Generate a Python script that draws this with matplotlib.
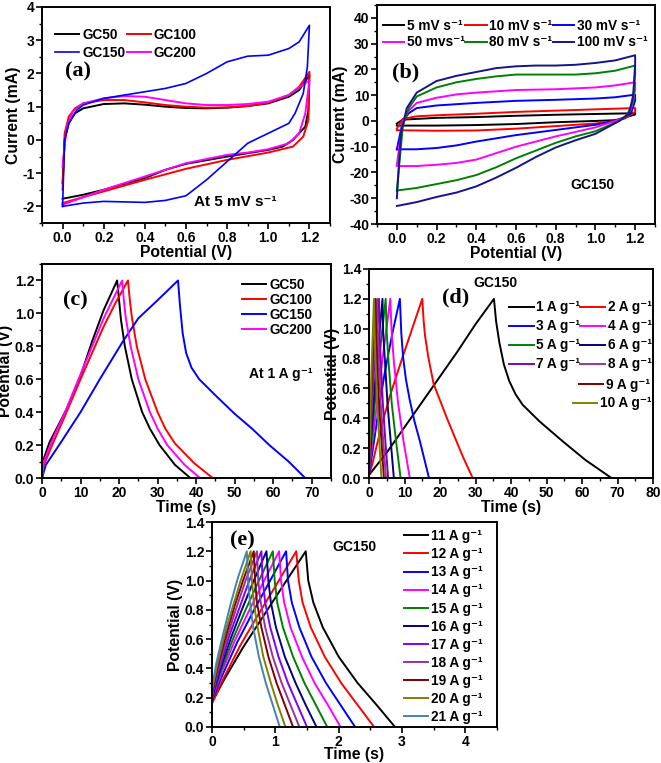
import numpy as np
import matplotlib
matplotlib.use('Agg')
import matplotlib.pyplot as plt
from matplotlib.ticker import MultipleLocator

plt.rcParams['font.family'] = ['Liberation Sans', 'DejaVu Sans']
plt.rcParams['font.weight'] = 'bold'
plt.rcParams['axes.labelweight'] = 'bold'
plt.rcParams['axes.linewidth'] = 1.4
plt.rcParams['axes.unicode_minus'] = False
plt.rcParams['font.size'] = 10

# ---------------- (a) CV at 5 mV/s, (V, mA) ----------------
a_gc50 = [(0.0, -1.3), (0.01, 0.0), (0.03, 0.5), (0.06, 0.8), (0.1, 0.95), (0.2, 1.08), (0.3, 1.1),
          (0.4, 1.06), (0.5, 1.0), (0.6, 0.96), (0.7, 0.95), (0.8, 0.97), (0.9, 1.02), (1.0, 1.1),
          (1.1, 1.3), (1.15, 1.5), (1.2, 1.95), (1.195, 0.9), (1.18, 0.4), (1.15, 0.2), (1.12, 0.0),
          (1.07, -0.2), (1.0, -0.3), (0.8, -0.5), (0.6, -0.72), (0.5, -0.9), (0.4, -1.15), (0.2, -1.5),
          (0.1, -1.65), (0.0, -1.77)]
a_gc100 = [(0.0, -1.5), (0.01, 0.2), (0.03, 0.7), (0.06, 0.95), (0.1, 1.1), (0.2, 1.2), (0.3, 1.2),
           (0.4, 1.13), (0.5, 1.05), (0.6, 1.0), (0.7, 0.97), (0.8, 0.98), (0.9, 1.02), (1.0, 1.12),
           (1.1, 1.35), (1.15, 1.6), (1.2, 2.05), (1.195, 0.6), (1.17, 0.1), (1.12, -0.2), (1.0, -0.38),
           (0.8, -0.6), (0.6, -0.87), (0.4, -1.2), (0.2, -1.55), (0.1, -1.72), (0.0, -1.9)]
a_gc150 = [(0.0, -2.0), (0.01, 0.0), (0.03, 0.5), (0.07, 0.9), (0.1, 1.05), (0.2, 1.25), (0.3, 1.35),
           (0.4, 1.45), (0.5, 1.55), (0.6, 1.7), (0.7, 2.0), (0.8, 2.35), (0.9, 2.52), (1.0, 2.55),
           (1.1, 2.75), (1.15, 2.95), (1.2, 3.45), (1.19, 2.2), (1.17, 1.4), (1.13, 0.8), (1.1, 0.5),
           (1.0, 0.2), (0.9, -0.1), (0.8, -0.65), (0.7, -1.2), (0.6, -1.68), (0.5, -1.82), (0.4, -1.88),
           (0.2, -1.85), (0.1, -1.9), (0.0, -2.0)]
a_gc200 = [(0.0, -0.8), (0.02, 0.4), (0.05, 0.85), (0.1, 1.1), (0.2, 1.25), (0.3, 1.32), (0.4, 1.3),
           (0.5, 1.2), (0.6, 1.1), (0.7, 1.05), (0.8, 1.05), (0.9, 1.08), (1.0, 1.15), (1.1, 1.35),
           (1.2, 1.8), (1.18, 0.8), (1.15, 0.2), (1.1, -0.1), (1.0, -0.28), (0.9, -0.38), (0.8, -0.45),
           (0.6, -0.7), (0.4, -1.1), (0.2, -1.5), (0.0, -1.95)]

# ---------------- (b) CV of GC150 at several scan rates ----------------
b_5 = [(0.0, -1.0), (0.03, 0.5), (0.2, 1.2), (0.4, 1.5), (0.6, 2.0), (0.8, 2.4), (1.0, 2.7), (1.2, 3.0),
       (1.2, 2.5), (1.1, 0.3), (1.0, 0.0), (0.8, -0.5), (0.6, -1.2), (0.4, -1.6), (0.2, -1.8), (0.0, -1.8)]
b_10 = [(0.0, -3.0), (0.03, 0.8), (0.1, 1.8), (0.2, 2.2), (0.4, 2.8), (0.6, 3.5), (0.8, 4.0), (1.0, 4.5),
        (1.2, 5.0), (1.2, 3.5), (1.15, 1.0), (1.1, 0.0), (1.0, -1.0), (0.8, -2.0), (0.6, -3.0), (0.4, -3.7),
        (0.2, -3.8), (0.0, -3.6)]
b_30 = [(0.0, -11.0), (0.03, 0.0), (0.06, 3.0), (0.1, 5.0), (0.2, 6.0), (0.4, 7.0), (0.6, 7.8), (0.8, 8.2),
        (1.0, 8.7), (1.1, 9.2), (1.2, 10.2), (1.2, 8.0), (1.18, 3.0), (1.14, 1.0), (1.1, 0.0), (1.0, -1.5),
        (0.8, -3.5), (0.6, -5.5), (0.4, -8.0), (0.3, -9.5), (0.2, -10.5), (0.1, -11.0), (0.0, -11.0)]
b_50 = [(0.0, -17.0), (0.03, 0.0), (0.06, 4.0), (0.1, 7.0), (0.2, 9.0), (0.3, 10.3), (0.4, 11.0), (0.6, 12.0),
        (0.8, 12.3), (1.0, 13.0), (1.1, 13.8), (1.2, 15.0), (1.2, 12.0), (1.18, 5.0), (1.15, 1.5), (1.1, 0.0),
        (1.0, -2.5), (0.8, -6.0), (0.6, -10.0), (0.5, -12.5), (0.4, -15.0), (0.3, -16.3), (0.2, -17.0),
        (0.1, -17.5), (0.0, -17.5)]
b_80 = [(0.0, -27.0), (0.03, -2.0), (0.06, 5.0), (0.1, 9.5), (0.2, 13.0), (0.3, 15.0), (0.4, 16.3), (0.5, 17.3),
        (0.6, 18.0), (0.8, 18.0), (0.9, 18.0), (1.0, 18.5), (1.1, 19.5), (1.2, 21.5), (1.2, 18.0), (1.19, 8.0),
        (1.16, 2.0), (1.12, 0.0), (1.0, -4.0), (0.9, -6.0), (0.8, -8.5), (0.7, -11.5), (0.6, -14.5),
        (0.5, -18.0), (0.4, -21.0), (0.3, -23.0), (0.2, -24.5), (0.1, -26.0), (0.0, -27.0)]
b_100 = [(0.0, -30.0), (0.02, -5.0), (0.05, 5.0), (0.1, 11.0), (0.2, 15.5), (0.3, 17.5), (0.4, 19.0),
         (0.5, 20.5), (0.6, 21.2), (0.7, 21.5), (0.8, 21.5), (0.9, 21.8), (1.0, 22.5), (1.1, 23.5),
         (1.2, 25.5), (1.2, 22.0), (1.19, 10.0), (1.17, 3.0), (1.12, 0.0), (1.0, -5.0), (0.9, -7.5),
         (0.8, -10.3), (0.7, -14.0), (0.6, -18.2), (0.5, -22.0), (0.4, -25.4), (0.3, -27.8), (0.2, -29.5),
         (0.1, -31.5), (0.0, -33.0)]

# ---------------- (c) GCD at 1 A/g, (s, V) ----------------
c_gc50 = [(0, 0.0), (0.5, 0.12), (2, 0.22), (4, 0.31), (6.4, 0.42), (10, 0.62), (13, 0.83), (16, 1.02),
          (19.5, 1.2), (20.0, 1.08), (20.5, 0.96), (21.5, 0.8), (23.3, 0.6), (26.0, 0.4), (28, 0.3),
          (30.5, 0.2), (34.5, 0.08), (38.5, 0.0)]
c_gc100 = [(0, 0.0), (0.5, 0.08), (3, 0.22), (6, 0.38), (10, 0.6), (13, 0.76), (16, 0.92), (19, 1.06),
           (22.3, 1.2), (22.8, 1.08), (23.3, 0.98), (24.6, 0.8), (26.8, 0.6), (30, 0.4), (32, 0.3),
           (34.5, 0.21), (39.5, 0.09), (44.3, 0.0)]
c_gc150 = [(0, 0.0), (1, 0.08), (5, 0.22), (10, 0.4), (15, 0.6), (21, 0.83), (25, 0.97), (30, 1.08),
           (35.3, 1.2), (35.8, 1.05), (36.5, 0.88), (37.4, 0.76), (38.8, 0.67), (40.8, 0.6), (45.1, 0.5),
           (50, 0.39), (54.5, 0.3), (59, 0.2), (64, 0.1), (68.3, 0.0)]
c_gc200 = [(0, 0.0), (0.5, 0.1), (3, 0.25), (6, 0.4), (10, 0.63), (13, 0.8), (16, 0.97), (18.5, 1.09),
           (20.8, 1.2), (21.2, 1.09), (21.7, 0.98), (23, 0.8), (25, 0.6), (28, 0.4), (30, 0.3),
           (32.5, 0.2), (37, 0.08), (41, 0.0)]

# ---------------- (d) GCD of GC150, 1-10 A/g ----------------
d_1 = [(0, 0.02), (5, 0.17), (10, 0.34), (15, 0.51), (20, 0.68), (25, 0.85), (30, 1.03), (35.2, 1.2),
       (35.8, 1.05), (36.7, 0.91), (38, 0.76), (39.5, 0.65), (41.3, 0.56), (43.3, 0.49), (48, 0.38),
       (54.6, 0.245), (61, 0.12), (68.3, 0.0)]
d_2 = [(0, 0.02), (1, 0.1), (2.1, 0.21), (4, 0.39), (5.9, 0.55), (7.8, 0.69), (9.6, 0.82), (12.3, 1.01),
       (15, 1.2), (15.4, 1.05), (15.8, 0.95), (16.7, 0.81), (18.2, 0.63), (20, 0.52), (21.8, 0.41),
       (23.7, 0.3), (26.5, 0.14), (29.2, 0.0)]
d_3 = [(0, 0.03), (1, 0.18), (2.6, 0.44), (4.4, 0.7), (6.5, 0.96), (8.7, 1.2), (9.1, 0.97), (9.6, 0.81),
       (10.4, 0.66), (11.5, 0.52), (12.8, 0.38), (14.3, 0.25), (16.9, 0.0)]
d_4 = [(0, 0.05), (1, 0.25), (3, 0.65), (6.0, 1.2), (6.4, 0.97), (7.0, 0.78), (8.2, 0.5), (9.7, 0.25), (11.5, 0.0)]
d_5 = [(0, 0.06), (0.8, 0.27), (2.3, 0.68), (4.7, 1.2), (5.0, 0.97), (5.5, 0.78), (6.4, 0.5), (7.6, 0.25), (8.9, 0.0)]
d_6 = [(0, 0.07), (0.7, 0.3), (1.9, 0.7), (3.8, 1.2), (4.0, 0.97), (4.5, 0.78), (5.2, 0.5), (6.1, 0.25), (7.0, 0.0)]
d_7 = [(0, 0.08), (0.5, 0.3), (1.4, 0.72), (2.8, 1.2), (3.0, 0.95), (3.4, 0.75), (3.9, 0.5), (4.6, 0.25), (5.4, 0.0)]
d_8 = [(0, 0.09), (0.4, 0.3), (1.1, 0.72), (2.3, 1.2), (2.5, 0.95), (2.8, 0.75), (3.3, 0.5), (4.0, 0.25), (4.8, 0.0)]
d_9 = [(0, 0.1), (0.3, 0.3), (0.9, 0.72), (1.8, 1.2), (2.0, 0.95), (2.3, 0.75), (2.8, 0.5), (3.5, 0.25), (4.2, 0.0)]
d_10 = [(0, 0.1), (0.25, 0.3), (0.7, 0.72), (1.4, 1.2), (1.6, 0.95), (1.9, 0.75), (2.3, 0.5), (2.9, 0.25), (3.5, 0.0)]

# ---------------- (e) GCD of GC150, 11-21 A/g ----------------
e_11 = [(0, 0.17), (0.2, 0.33), (0.5, 0.55), (0.8, 0.75), (1.1, 0.95), (1.48, 1.2),
        (1.52, 1.0), (1.60, 0.85), (1.75, 0.68), (2.0, 0.48), (2.3, 0.3), (2.6, 0.15), (2.89, 0.0)]
e_12 = [(0, 0.16), (0.18, 0.33), (0.45, 0.56), (0.72, 0.76), (1.0, 0.96), (1.33, 1.2),
        (1.37, 1.0), (1.43, 0.85), (1.56, 0.68), (1.78, 0.48), (2.04, 0.3), (2.3, 0.15), (2.56, 0.0)]
e_13 = [(0, 0.18), (0.16, 0.35), (0.4, 0.58), (0.64, 0.78), (0.88, 0.97), (1.17, 1.2),
        (1.2, 1.0), (1.26, 0.85), (1.38, 0.68), (1.57, 0.48), (1.8, 0.3), (2.03, 0.15), (2.26, 0.0)]
e_14 = [(0, 0.19), (0.14, 0.36), (0.36, 0.59), (0.58, 0.79), (0.8, 0.98), (1.06, 1.2),
        (1.09, 1.0), (1.14, 0.85), (1.24, 0.68), (1.42, 0.48), (1.62, 0.3), (1.83, 0.15), (2.03, 0.0)]
e_15 = [(0, 0.2), (0.13, 0.37), (0.33, 0.6), (0.53, 0.8), (0.72, 0.98), (0.96, 1.2),
        (0.99, 1.0), (1.03, 0.85), (1.12, 0.68), (1.28, 0.48), (1.46, 0.3), (1.64, 0.15), (1.82, 0.0)]
e_16 = [(0, 0.2), (0.12, 0.38), (0.3, 0.61), (0.47, 0.8), (0.65, 0.99), (0.86, 1.2),
        (0.89, 1.0), (0.93, 0.85), (1.01, 0.68), (1.15, 0.48), (1.32, 0.3), (1.48, 0.15), (1.65, 0.0)]
e_17 = [(0, 0.21), (0.11, 0.39), (0.27, 0.62), (0.43, 0.81), (0.58, 0.99), (0.78, 1.2),
        (0.8, 1.0), (0.84, 0.85), (0.92, 0.68), (1.05, 0.48), (1.2, 0.3), (1.35, 0.15), (1.5, 0.0)]
e_18 = [(0, 0.22), (0.1, 0.4), (0.25, 0.63), (0.39, 0.82), (0.53, 1.0), (0.71, 1.2),
        (0.73, 1.0), (0.77, 0.85), (0.84, 0.68), (0.96, 0.48), (1.1, 0.3), (1.24, 0.15), (1.38, 0.0)]
e_19 = [(0, 0.23), (0.09, 0.41), (0.23, 0.64), (0.36, 0.83), (0.49, 1.0), (0.66, 1.2),
        (0.68, 1.0), (0.71, 0.85), (0.78, 0.68), (0.89, 0.48), (1.02, 0.3), (1.15, 0.15), (1.28, 0.0)]
e_20 = [(0, 0.25), (0.08, 0.42), (0.21, 0.65), (0.34, 0.84), (0.46, 1.01), (0.61, 1.2),
        (0.63, 1.0), (0.66, 0.85), (0.72, 0.68), (0.81, 0.48), (0.93, 0.3), (1.04, 0.15), (1.16, 0.0)]
e_21 = [(0, 0.27), (0.07, 0.44), (0.19, 0.66), (0.3, 0.85), (0.41, 1.02), (0.55, 1.2),
        (0.57, 1.0), (0.6, 0.85), (0.65, 0.68), (0.74, 0.48), (0.85, 0.3), (0.96, 0.15), (1.07, 0.0)]

W, H = 661, 763
fig = plt.figure(figsize=(W / 100, H / 100), dpi=100)


def box(l, t, r, b):
    # pixel box -> figure fraction
    return [l / W, 1 - b / H, (r - l) / W, (b - t) / H]


def style(ax, xmaj, xmin, ymaj, ymin):
    ax.xaxis.set_major_locator(MultipleLocator(xmaj))
    ax.xaxis.set_minor_locator(MultipleLocator(xmin))
    ax.yaxis.set_major_locator(MultipleLocator(ymaj))
    ax.yaxis.set_minor_locator(MultipleLocator(ymin))
    ax.tick_params(which='major', direction='out', length=4, width=1.2, labelsize=10, pad=1.5)
    ax.tick_params(which='minor', direction='out', length=2.5, width=1.0)
    for lab in ax.get_xticklabels() + ax.get_yticklabels():
        lab.set_fontweight('bold')


def draw(ax, pts, color, label, lw=1.4):
    p = np.array(pts)
    return ax.plot(p[:, 0], p[:, 1], color=color, lw=lw, label=label)[0]


kw = dict(frameon=False, handlelength=1.8, handletextpad=0.2, borderaxespad=0.0,
          borderpad=0.0, prop={'weight': 'bold', 'size': 9.8})
LAB = 11.3
PAN = dict(family='Liberation Serif', fontsize=16, fontweight='bold', va='center')
ANN = dict(fontsize=10, fontweight='bold', va='center')

# ---- (a) ----
ax = fig.add_axes(box(42, 7, 330, 223))
h50 = draw(ax, a_gc50, 'black', 'GC50')
h100 = draw(ax, a_gc100, 'red', 'GC100')
h200 = draw(ax, a_gc200, '#ff00ff', 'GC200')
h150 = draw(ax, a_gc150, '#0000ff', 'GC150', lw=1.2)
ax.set_xlim(-0.1, 1.3)
ax.set_ylim(-2.5, 4)
style(ax, 0.2, 0.1, 1, 0.5)
ax.set_xlabel('Potential (V)', fontsize=LAB, labelpad=0)
ax.set_ylabel('Current (mA)', fontsize=LAB, labelpad=1)
ax.legend([h50, h150, h100, h200], ['GC50', 'GC150', 'GC100', 'GC200'], ncol=2, loc='upper left',
          columnspacing=0.1, labelspacing=0.3, bbox_to_anchor=(0.045, 0.905), **kw)
ax.text(0.01, 2.05, '(a)', **PAN)
ax.text(0.64, -1.86, 'At 5 mV s\u207b\u00b9', fontsize=11, fontweight='bold', va='center')

# ---- (b) ----
ax = fig.add_axes(box(377, 5, 655, 224))
hb = [draw(ax, b_5, 'black', '5 mV s\u207b\u00b9'),
      draw(ax, b_10, 'red', '10 mV s\u207b\u00b9'),
      draw(ax, b_30, '#0000ff', '30 mV s\u207b\u00b9'),
      draw(ax, b_50, '#ff00ff', '50 mvs\u207b\u00b9'),
      draw(ax, b_80, '#008000', '80 mV s\u207b\u00b9'),
      draw(ax, b_100, '#14148c', '100 mV s\u207b\u00b9')]
ax.set_xlim(-0.1, 1.3)
ax.set_ylim(-40, 45)
style(ax, 0.2, 0.1, 10, 5)
ax.set_xlabel('Potential (V)', fontsize=LAB, labelpad=0)
ax.set_ylabel('Current (mA)', fontsize=LAB, labelpad=1)
order = [0, 3, 1, 4, 2, 5]
kwb = dict(kw, handlelength=1.6)
ax.legend([hb[i] for i in order], [hb[i].get_label() for i in order], ncol=3, loc='upper left',
          columnspacing=0.0, labelspacing=0.15, bbox_to_anchor=(0.02, 0.935), **kwb)
ax.text(-0.025, 18.7, '(b)', **PAN)
ax.text(0.875, -24.8, 'GC150', **ANN)

# ---- (c) ----
ax = fig.add_axes(box(42, 264, 331, 478))
draw(ax, c_gc50, 'black', 'GC50')
draw(ax, c_gc100, 'red', 'GC100')
draw(ax, c_gc150, '#0000ff', 'GC150')
draw(ax, c_gc200, '#ff00ff', 'GC200')
ax.set_xlim(0, 75)
ax.set_ylim(0, 1.3)
style(ax, 10, 5, 0.2, 0.1)
ax.set_xlabel('Time (s)', fontsize=LAB, labelpad=0)
ax.set_ylabel('Potential (V)', fontsize=LAB, labelpad=1)
ax.legend(loc='upper right', labelspacing=0.08, bbox_to_anchor=(0.935, 0.935), **kw)
ax.text(5.5, 1.08, '(c)', **PAN)
ax.text(53.7, 0.63, 'At 1 A g\u207b\u00b9', **ANN)

# ---- (d) ----
ax = fig.add_axes(box(369, 269, 653, 478))
d_sets = [(d_1, 'black'), (d_2, 'red'), (d_3, '#0000ff'), (d_4, '#ff00ff'), (d_5, '#008000'),
          (d_6, '#000080'), (d_7, '#8000c0'), (d_8, '#993399'), (d_9, '#800000'), (d_10, '#808000')]
hd = [draw(ax, pts, col, '%d A g\u207b\u00b9' % (i + 1)) for i, (pts, col) in enumerate(d_sets)]
ax.set_xlim(0, 80)
ax.set_ylim(0, 1.4)
style(ax, 10, 5, 0.2, 0.1)
ax.set_xlabel('Time (s)', fontsize=LAB, labelpad=0)
ax.set_ylabel('Potential (V)', fontsize=LAB, labelpad=1)
order = [0, 2, 4, 6, 1, 3, 5, 7]
l1 = ax.legend([hd[i] for i in order], [hd[i].get_label() for i in order], ncol=2, loc='upper right',
               columnspacing=0.0, labelspacing=0.37, bbox_to_anchor=(0.995, 0.85), **kw)
ax.add_artist(l1)
l2 = ax.legend([hd[8]], [hd[8].get_label()], loc='upper right', bbox_to_anchor=(0.99, 0.48), **kw)
ax.add_artist(l2)
ax.legend([hd[9]], [hd[9].get_label()], loc='upper right', bbox_to_anchor=(0.995, 0.391), **kw)
ax.text(20.5, 1.21, '(d)', **PAN)
ax.text(29.3, 1.306, 'GC150', **ANN)

# ---- (e) ----
ax = fig.add_axes(box(212, 522, 497, 727))
e_sets = [(e_11, 'black'), (e_12, 'red'), (e_13, '#0000ff'), (e_14, '#ff00ff'), (e_15, '#008000'),
          (e_16, '#000080'), (e_17, '#8000ff'), (e_18, '#993399'), (e_19, '#800000'), (e_20, '#808000'),
          (e_21, '#4682b4')]
for i, (pts, col) in enumerate(e_sets):
    draw(ax, pts, col, '%d A g\u207b\u00b9' % (i + 11))
ax.set_xlim(0, 4.5)
ax.set_ylim(0, 1.4)
style(ax, 1, 0.5, 0.2, 0.1)
ax.set_xlabel('Time (s)', fontsize=LAB, labelpad=-1)
ax.set_ylabel('Potential (V)', fontsize=LAB, labelpad=1)
ax.legend(loc='upper right', labelspacing=0.3, bbox_to_anchor=(0.95, 0.965), **kw)
ax.text(0.29, 1.275, '(e)', **PAN)
ax.text(1.9, 1.227, 'GC150', **ANN)

fig.savefig('out.png', dpi=100)
